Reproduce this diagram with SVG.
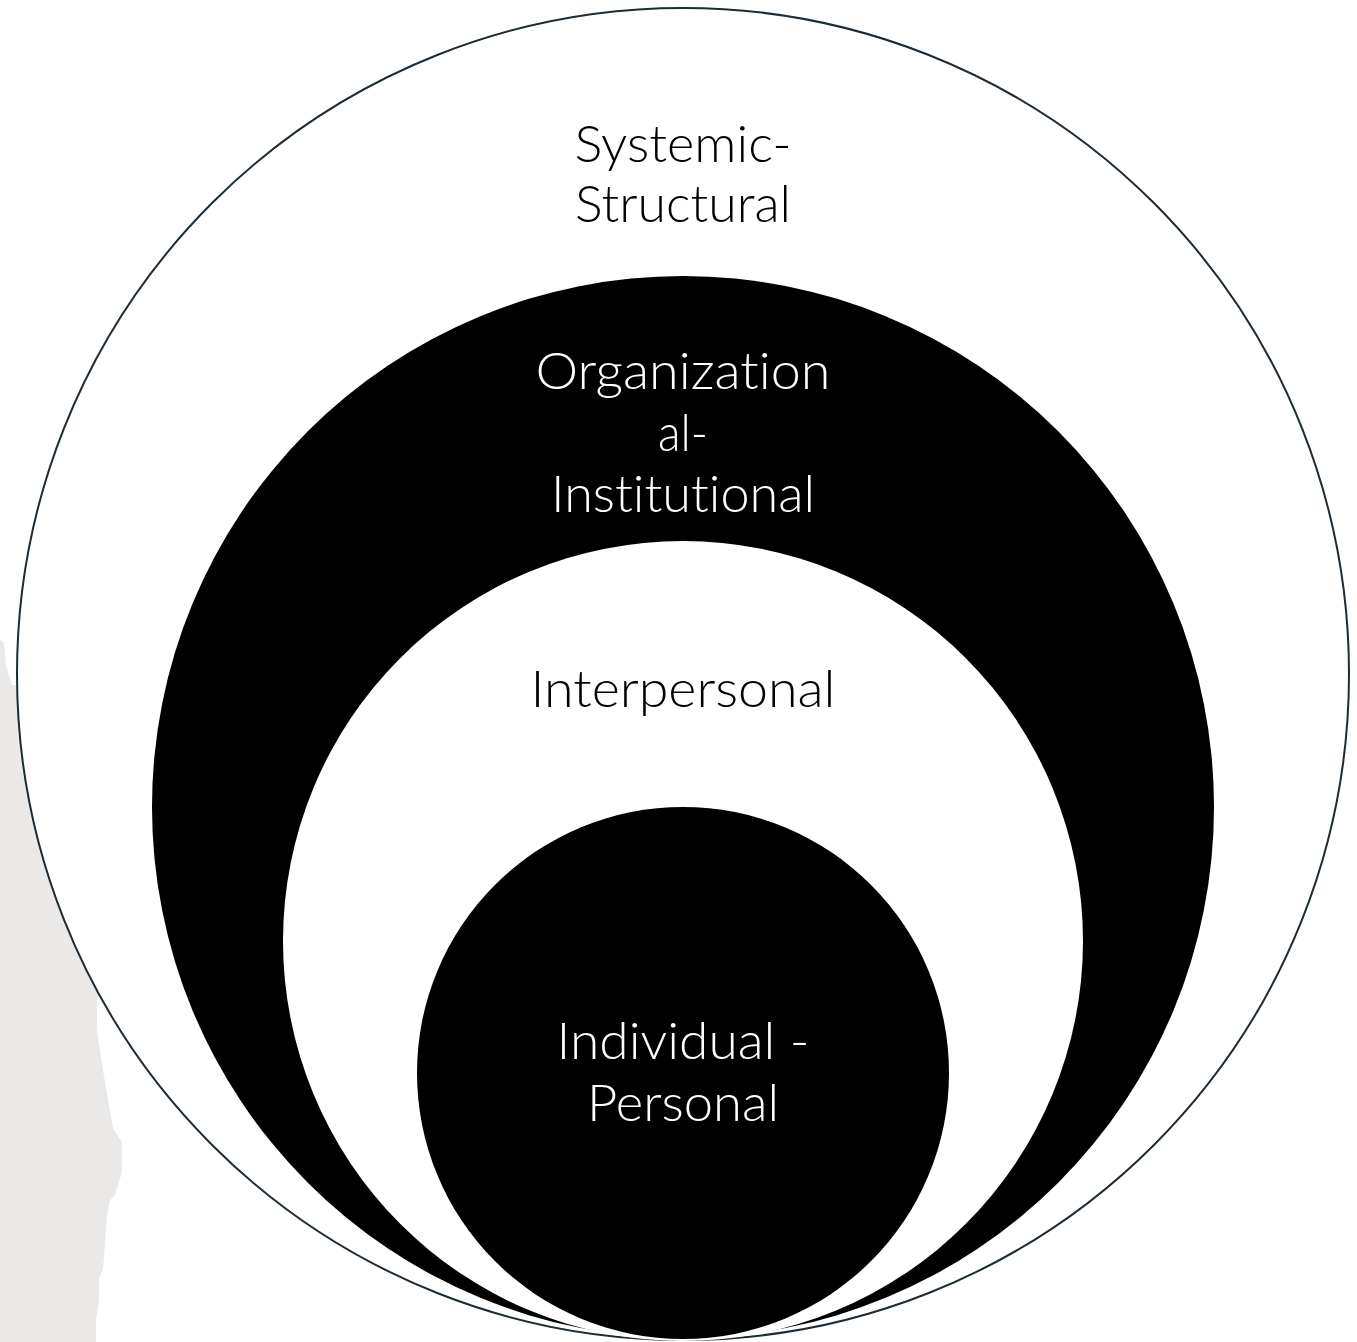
<svg xmlns="http://www.w3.org/2000/svg" width="1357" height="1342" viewBox="0 0 1357 1342">
  <style>
    .lbl { font-family: "Lato", "Liberation Sans", sans-serif; font-size: 51px; font-weight: 300; text-anchor: middle; font-variant-ligatures: none; font-feature-settings: "liga" 0, "clig" 0; }
    .dark { fill: #000000; }
    .light { fill: #ffffff; }
  </style>
  <rect x="0" y="0" width="1357" height="1342" fill="#ffffff"/>
  <polygon id="backdrop" fill="#EAE9E8" points="0,640 4,643 6,665 12,685 200,685 200,997 97,997 97,1030 99,1045 100,1050 103,1070 108,1100 113,1128 117,1135 122,1142 122,1172 115,1195 110,1200 107,1215 103,1270 99,1278 99,1300 96,1320 96,1342 0,1342"/>
  <g id="systemic-structural">
    <circle cx="683" cy="674" r="666" fill="#ffffff" stroke="#1C2B34" stroke-width="2"/>
    <text class="lbl dark" x="683" y="162" textLength="217" lengthAdjust="spacingAndGlyphs">Systemic-</text>
    <text class="lbl dark" x="683" y="222" textLength="216" lengthAdjust="spacingAndGlyphs">Structural</text>
  </g>
  <g id="organizational-institutional">
    <circle cx="683" cy="807" r="531" fill="#000000"/>
    <text class="lbl light" x="683" y="389" textLength="295" lengthAdjust="spacingAndGlyphs">Organization</text>
    <text class="lbl light" x="683" y="451" textLength="50" lengthAdjust="spacingAndGlyphs">al-</text>
    <text class="lbl light" x="683" y="512" textLength="264" lengthAdjust="spacingAndGlyphs">Institutional</text>
  </g>
  <g id="interpersonal">
    <circle cx="683" cy="941" r="400" fill="#ffffff"/>
    <text class="lbl dark" x="683" y="707" textLength="305" lengthAdjust="spacingAndGlyphs">Interpersonal</text>
  </g>
  <g id="individual-personal">
    <circle cx="683" cy="1073" r="266" fill="#000000"/>
    <text class="lbl light" x="683" y="1059" textLength="253" lengthAdjust="spacingAndGlyphs">Individual -</text>
    <text class="lbl light" x="683" y="1121" textLength="192" lengthAdjust="spacingAndGlyphs">Personal</text>
  </g>
  <g id="connectors"/>
</svg>
